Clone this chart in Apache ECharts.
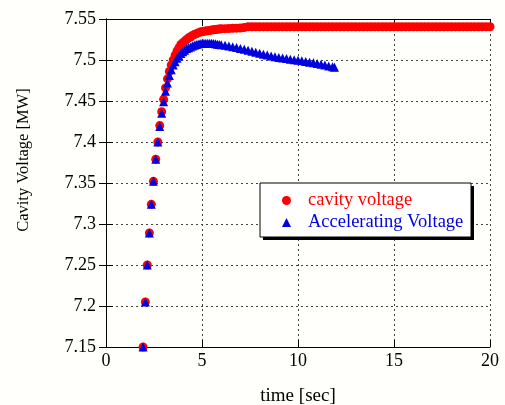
<!DOCTYPE html>
<html>
<head>
<meta charset="utf-8">
<script src="https://cdn.jsdelivr.net/npm/echarts@6/dist/echarts.min.js"></script>
<style>
  html, body { margin: 0; padding: 0; background: #fffffc; }
  #main { width: 505px; height: 405px; }
</style>
</head>
<body>
<div id="main"></div>
<script>
// cavity voltage (red circles)
var cavityTime = [1.93, 2.05, 2.15, 2.26, 2.36, 2.47, 2.59, 2.70, 2.80, 2.90, 3.00, 3.10, 3.20, 3.30, 3.40, 3.50,
  3.60, 3.70, 3.80, 3.90, 4.00, 4.10, 4.20, 4.30, 4.40, 4.50, 4.60, 4.70, 4.80, 4.90, 5.00, 5.10, 5.20, 5.30,
  5.40, 5.50, 5.60, 5.70, 5.80, 5.90, 6.00, 6.20, 6.40, 6.60, 6.80, 7.00, 7.20, 7.40, 7.60, 7.80, 8.00, 8.20,
  8.40, 8.60, 8.80, 9.00, 9.20, 9.40, 9.60, 9.80, 10.0, 10.2, 10.4, 10.6, 10.8, 11.0, 11.2, 11.4, 11.6, 11.8,
  12.0, 12.2, 12.4, 12.6, 12.8, 13.0, 13.2, 13.4, 13.6, 13.8, 14.0, 14.2, 14.4, 14.6, 14.8, 15.0, 15.2, 15.4,
  15.6, 15.8, 16.0, 16.2, 16.4, 16.6, 16.8, 17.0, 17.2, 17.4, 17.6, 17.8, 18.0, 18.2, 18.4, 18.6, 18.8, 19.0,
  19.2, 19.4, 19.6, 19.8, 20.0];
var cavityVolt = [7.150, 7.205, 7.250, 7.289, 7.324, 7.352, 7.379, 7.400, 7.420, 7.437, 7.452, 7.466, 7.477, 7.486, 7.494, 7.500,
  7.506, 7.511, 7.515, 7.519, 7.521, 7.523, 7.525, 7.527, 7.528, 7.530, 7.531, 7.532, 7.533, 7.534, 7.5345, 7.535, 7.5353, 7.5357,
  7.536, 7.5365, 7.537, 7.5372, 7.5375, 7.5378, 7.538, 7.5382, 7.5384, 7.5386, 7.5388, 7.539, 7.5395, 7.5405, 7.5405, 7.5405, 7.5405, 7.5405,
  7.5405, 7.5405, 7.5405, 7.5405, 7.5405, 7.5405, 7.5405, 7.5405, 7.5405, 7.5405, 7.5405, 7.5405, 7.5405, 7.5405, 7.5405, 7.5405, 7.5405, 7.5405,
  7.5405, 7.5405, 7.5405, 7.5405, 7.5405, 7.5405, 7.5405, 7.5405, 7.5405, 7.5405, 7.5405, 7.5405, 7.5405, 7.5405, 7.5405, 7.5405, 7.5405, 7.5405,
  7.5405, 7.5405, 7.5405, 7.5405, 7.5405, 7.5405, 7.5405, 7.5405, 7.5405, 7.5405, 7.5405, 7.5405, 7.5405, 7.5405, 7.5405, 7.5405, 7.5405, 7.5405,
  7.5405, 7.5405, 7.5405, 7.5405, 7.5405];

// accelerating voltage (blue triangles)
var accelTime = [1.93, 2.05, 2.15, 2.26, 2.36, 2.47, 2.59, 2.70, 2.80, 2.90, 3.00, 3.10, 3.20, 3.30, 3.40, 3.50,
  3.60, 3.70, 3.80, 3.90, 4.00, 4.10, 4.20, 4.30, 4.40, 4.50, 4.60, 4.70, 4.80, 4.90, 5.00, 5.10, 5.20, 5.30,
  5.40, 5.50, 5.60, 5.70, 5.80, 5.90, 6.00, 6.20, 6.40, 6.60, 6.80, 7.00, 7.20, 7.40, 7.60, 7.80, 8.00, 8.20,
  8.40, 8.60, 8.80, 9.00, 9.20, 9.40, 9.60, 9.80, 10.0, 10.2, 10.4, 10.6, 10.8, 11.0, 11.2, 11.4, 11.6, 11.8, 11.9];
var accelVolt = [7.150, 7.205, 7.250, 7.289, 7.324, 7.352, 7.379, 7.400, 7.419, 7.435, 7.449, 7.462, 7.472, 7.481, 7.488, 7.494,
  7.498, 7.502, 7.505, 7.508, 7.510, 7.512, 7.514, 7.515, 7.516, 7.517, 7.518, 7.519, 7.5195, 7.520, 7.520, 7.5203, 7.5205, 7.5205,
  7.5205, 7.5203, 7.520, 7.5197, 7.5193, 7.519, 7.5187, 7.518, 7.5172, 7.5163, 7.5152, 7.514, 7.513, 7.5118, 7.5106, 7.5094, 7.5082, 7.507,
  7.506, 7.505, 7.504, 7.5032, 7.5025, 7.5018, 7.501, 7.5003, 7.4997, 7.499, 7.4982, 7.4974, 7.4966, 7.4957, 7.4948, 7.4938, 7.4928, 7.4918, 7.4912];

function pairs(xs, ys) {
  var out = [];
  for (var i = 0; i < xs.length; i++) out.push([xs[i], ys[i]]);
  return out;
}

var serif = "'Liberation Serif', 'Times New Roman', serif";
var chart = echarts.init(document.getElementById('main'));

var option = {
  backgroundColor: '#fffffc',
  animation: false,
  textStyle: {fontFamily: serif},
  grid: {left: 106, right: 15, top: 19, bottom: 58, outerBoundsMode: 'none'},
  graphic: [
    // legend frame with its drop shadow
    {type: 'rect', z: 10, shape: {x: 263, y: 186, width: 211, height: 54}, style: {fill: '#000'}},
    {type: 'rect', z: 11, shape: {x: 260, y: 183, width: 211, height: 54}, style: {fill: '#fff', stroke: '#000', lineWidth: 1}},
    // y axis title
    {type: 'text', z: 11, x: 24, y: 160, rotation: Math.PI / 2,
      style: {text: 'Cavity Voltage [MW]', fontFamily: serif, fontSize: 16.5, fill: '#000', align: 'center', verticalAlign: 'middle'}}
  ],
  legend: {
    z: 20,
    orient: 'vertical',
    left: 260, top: 183,
    padding: [8, 8, 7, 22],
    itemWidth: 9, itemHeight: 9,
    itemGap: 3,
    textStyle: {fontFamily: serif, fontSize: 18.5, padding: [0, 0, 0, 12]},
    data: [
      {name: 'cavity voltage', icon: 'circle', textStyle: {color: '#ff0000'}},
      {name: 'Accelerating Voltage', icon: 'triangle', textStyle: {color: '#0000e0'}}
    ]
  },
  xAxis: [{
    type: 'value', min: 0, max: 20, interval: 5,
    name: 'time [sec]', nameLocation: 'middle', nameGap: 40,
    nameTextStyle: {fontFamily: serif, fontSize: 19, color: '#000'},
    axisLine: {lineStyle: {color: '#000', width: 1}},
    axisTick: {inside: true, length: 7, lineStyle: {color: '#000'}},
    axisLabel: {fontFamily: serif, fontSize: 18, color: '#000', margin: 5},
    splitLine: {show: true, lineStyle: {color: '#444', type: [2, 3], width: 1}}
  }, {
    type: 'value', min: 0, max: 20, interval: 5, position: 'top',
    axisLine: {show: true, lineStyle: {color: '#000'}},
    axisTick: {inside: true, length: 7, lineStyle: {color: '#000'}},
    axisLabel: {show: false}, splitLine: {show: false}
  }],
  yAxis: [{
    type: 'value', min: 7.15, max: 7.55, interval: 0.05,
    axisLine: {show: true, lineStyle: {color: '#000', width: 1}},
    axisTick: {show: true, inside: true, length: 7, lineStyle: {color: '#000'}},
    axisLabel: {fontFamily: serif, fontSize: 18, color: '#000', margin: 10,
      formatter: function (v) { return String(+v.toFixed(2)); }},
    splitLine: {show: true, lineStyle: {color: '#444', type: [2, 3], width: 1}}
  }, {
    type: 'value', min: 7.15, max: 7.55, interval: 0.05, position: 'right',
    axisLine: {show: true, lineStyle: {color: '#000'}},
    axisTick: {show: true, inside: true, length: 7, lineStyle: {color: '#000'}},
    axisLabel: {show: false}, splitLine: {show: false}
  }],
  series: [{
    name: 'cavity voltage', type: 'scatter',
    symbol: 'circle', symbolSize: 9,
    itemStyle: {color: '#ff0000', opacity: 1},
    data: pairs(cavityTime, cavityVolt)
  }, {
    name: 'Accelerating Voltage', type: 'scatter',
    symbol: 'triangle', symbolSize: 9,
    itemStyle: {color: '#0000e0', opacity: 1},
    data: pairs(accelTime, accelVolt)
  }]
};

chart.setOption(option);
</script>
</body>
</html>
